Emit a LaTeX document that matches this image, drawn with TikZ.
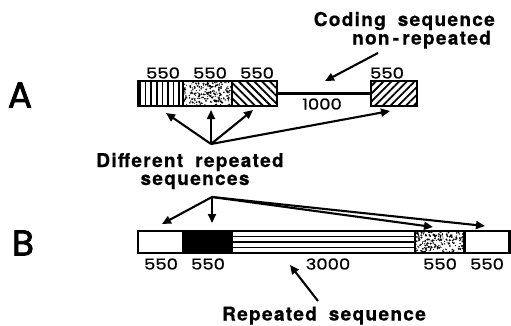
\documentclass[tikz,border=0pt]{standalone}
\usepackage{fontspec}
\setmainfont{TeX Gyre Heros}
\newfontfamily\capfont{texgyreheros-bold.otf}[LetterSpace=7,WordSpace=1.8,FakeBold=0.6]
\newfontfamily\numfont{Poppins}[FakeStretch=1.2,FakeBold=1]
\newfontfamily\bigfont{Poppins}[FakeBold=2]
\usetikzlibrary{patterns.meta,arrows.meta}
\newcommand\mystip[5]{%
  \begin{scope}
    \clip (#1,#2) rectangle (#3,#4);
    \foreach \k in {1,...,#5}{%
      \pgfmathsetmacro\px{#1+rnd*(#3-#1)}%
      \pgfmathsetmacro\py{#2+rnd*(#4-#2)}%
      \pgfmathsetmacro\pr{0.45+0.7*rnd}%
      \fill (\px,\py) circle[radius=\pr pt];}
  \end{scope}}
\begin{document}
\begin{tikzpicture}[x=1pt,y=-1pt,
  seg/.style={draw,line width=2.8pt,inner sep=0pt,outer sep=0pt,minimum height=25pt},
  segb/.style={draw,line width=2.8pt,inner sep=0pt,outer sep=0pt,minimum height=22pt,fill=white},
  conn/.style={line width=2.4pt},
  arr/.style={line width=2.1pt,-{Triangle[length=9pt,width=8pt]}},
  captxt/.style={font=\capfont\fontsize{19}{19}\selectfont, inner sep=0pt},
  num/.style={font=\numfont\fontsize{15}{15}\selectfont, inner sep=0pt},
  big/.style={font=\bigfont\fontsize{36}{36}\selectfont, inner sep=0pt}]
\useasboundingbox (0,0) rectangle (511,325);
\pgfmathsetseed{11}
% ---- row A
\node[big] (A) at (20,95) {A};
\node[seg,minimum width=45pt,pattern={Lines[angle=90,distance=5.6pt,line width=1.7pt]}] (a1) at (160.5,93.5) {};
\node[seg,minimum width=49pt,fill=white] (a2) at (207.5,93.5) {};
\mystip{183}{81}{232}{106}{240}
\node[seg,minimum width=49pt] at (207.5,93.5) {};
\node[seg,minimum width=45pt,pattern={Lines[angle=-45,distance=5.5pt,line width=1.8pt]}] (a3) at (254.5,93.5) {};
\node[seg,minimum width=46pt,pattern={Lines[angle=45,distance=5.5pt,line width=1.8pt]}] (a4) at (394,93.5) {};
\draw[conn] (a3.east) -- (a4.west);
\node[num] (la1) at (163,73) {550};
\node[num] (la2) at (210,73) {550};
\node[num] (la3) at (257,73) {550};
\node[num] (la4) at (387,73) {550};
\node[num] (l1000) at (322,104) {1000};
% coding sequence
\node[captxt,anchor=base east] (cs1) at (495,26) {Coding sequence};
\node[captxt,anchor=base east] (cs2) at (491,44.5) {non\,-\,repeated};
\coordinate (csT) at (378,53);
\coordinate (csH) at (325,81);
\draw[arr] (csT) -- (csH);
% different repeated
\node[captxt,anchor=base] (dr1) at (190,167) {Different repeated};
\node[captxt,anchor=base] (dr2) at (195,185) {sequences};
\coordinate (dA) at (211,144);
\coordinate (tA1) at (166,113);
\coordinate (tA2) at (211,110);
\coordinate (tA3) at (253,110);
\coordinate (tA4) at (390,111);
\foreach \t in {tA1,tA2,tA3,tA4} \draw[arr] (dA) -- (\t);
% ---- row B
\node[big] (B) at (23,243) {B};
\node[segb,minimum width=45pt] (b1) at (160.5,242) {};
\node[segb,minimum width=49pt,fill=black] (b2) at (207.5,242) {};
\node[segb,minimum width=183pt] (b3) at (323.5,242) {};
\foreach \yy in {236.5,242,247.5}
  \draw[line width=1.9pt] (232,\yy) -- (415,\yy);
\node[segb,minimum width=50pt] (b4) at (440,242) {};
\mystip{415}{231}{465}{253}{220}
\node[segb,minimum width=50pt,fill=none] at (440,242) {};
\node[segb,minimum width=45pt] (b5) at (487,242) {};
\node[num] (lb1) at (161,264) {550};
\node[num] (lb2) at (208,264) {550};
\node[num] (lb3) at (328,264) {3000};
\node[num] (lb4) at (440,264) {550};
\node[num] (lb5) at (487,264) {550};
\coordinate (dB) at (212,197);
\coordinate (tB1) at (162,224);
\coordinate (tB2) at (212,223);
\coordinate (tB3) at (433,227);
\coordinate (tB4) at (485,226);
\foreach \t in {tB1,tB2,tB3,tB4} \draw[arr] (dB) -- (\t);
% repeated sequence
\node[captxt,anchor=base] (rs) at (324,320.5) {Repeated sequence};
\coordinate (rsT) at (318,301);
\coordinate (rsH) at (290,265);
\draw[arr] (rsT) -- (rsH);
\end{tikzpicture}
\end{document}
